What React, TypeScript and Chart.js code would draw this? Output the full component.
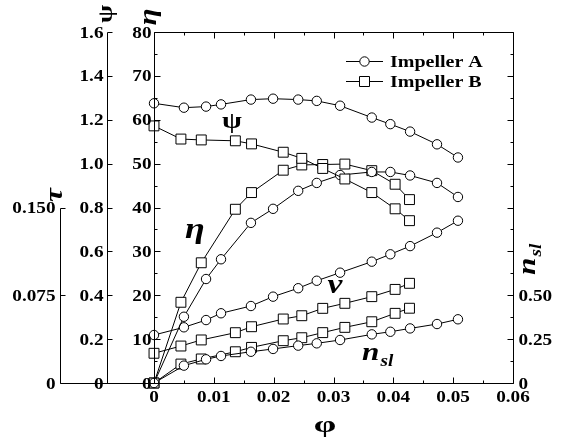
import { useEffect, useRef } from 'react';
import { Chart, registerables } from 'chart.js';

Chart.register(...registerables);

// Flow coefficient at each measured operating point
const phiA = [0, 0.005, 0.0087, 0.0112, 0.0162, 0.0199, 0.0241, 0.0272, 0.0311, 0.0364, 0.0395, 0.0428, 0.0473, 0.0508];
const phiB = [0, 0.0045, 0.0079, 0.0136, 0.0163, 0.0216, 0.0247, 0.0282, 0.0319, 0.0364, 0.0403, 0.0427];

// Head coefficient ψ
const psiA = [1.275, 1.255, 1.26, 1.27, 1.292, 1.296, 1.292, 1.286, 1.264, 1.21, 1.18, 1.146, 1.088, 1.028];
const psiB = [1.172, 1.112, 1.108, 1.104, 1.09, 1.052, 1.024, 0.978, 0.93, 0.868, 0.794, 0.74];

// Efficiency η (%)
const etaA = [0, 15.1, 23.7, 28.2, 36.5, 39.7, 43.8, 45.6, 47.4, 48.1, 48.1, 47.3, 45.6, 42.4];
const etaB = [0, 18.4, 27.4, 39.6, 43.4, 48.5, 49.7, 49.8, 49.9, 48.4, 45.3, 41.8];

// Torque coefficient τ
const tauA = [0.041, 0.0476, 0.0538, 0.0596, 0.0658, 0.0738, 0.081, 0.0874, 0.0943, 0.1037, 0.11, 0.117, 0.1285, 0.1387];
const tauB = [0.0254, 0.0316, 0.0368, 0.043, 0.0481, 0.0547, 0.0575, 0.0638, 0.0681, 0.0738, 0.08, 0.0852];

// Specific speed n_sl
const nslA = [0, 0.099, 0.135, 0.154, 0.178, 0.194, 0.213, 0.226, 0.245, 0.277, 0.292, 0.311, 0.336, 0.363];
const nslB = [0, 0.108, 0.137, 0.178, 0.203, 0.241, 0.258, 0.287, 0.317, 0.349, 0.397, 0.426];

const seriesNames = ['Impeller A', 'Impeller B'];

// Axis ticks and their labels
const xTicks = [0, 0.01, 0.02, 0.03, 0.04, 0.05, 0.06];
const xTickLabels = ['0', '0.01', '0.02', '0.03', '0.04', '0.05', '0.06'];
const etaTicks = [0, 10, 20, 30, 40, 50, 60, 70, 80];
const etaTickLabels = ['0', '10', '20', '30', '40', '50', '60', '70', '80'];
const psiTicks = [0, 0.2, 0.4, 0.6, 0.8, 1.0, 1.2, 1.4, 1.6];
const psiTickLabels = ['0', '0.2', '0.4', '0.6', '0.8', '1.0', '1.2', '1.4', '1.6'];
const tauTicks = [0, 0.075, 0.15];
const tauTickLabels = ['0', '0.075', '0.150'];
const nslTicks = [0, 0.25, 0.5];
const nslTickLabels = ['0', '0.25', '0.50'];

const SERIF = '"Liberation Serif", "Times New Roman", serif';
const SX = 1.2;
const PSI_AXIS_X = 107;
const TAU_AXIS_X = 60;

type TextOpts = {
  size: number;
  italic?: boolean;
  align?: CanvasTextAlign;
  baseline?: CanvasTextBaseline;
  sx?: number;
  rotate?: boolean;
};

function drawText(ctx: CanvasRenderingContext2D, str: string, x: number, y: number, o: TextOpts) {
  ctx.save();
  ctx.translate(x, y);
  if (o.rotate) ctx.rotate(-Math.PI / 2);
  ctx.scale(o.sx ?? SX, 1);
  ctx.font = `${o.italic ? 'italic ' : ''}bold ${o.size}px ${SERIF}`;
  ctx.textAlign = o.align ?? 'left';
  ctx.textBaseline = o.baseline ?? 'alphabetic';
  ctx.fillStyle = '#000';
  ctx.fillText(str, 0, 0);
  ctx.restore();
}

// "n" with a subscript "sl", optionally rotated to read bottom-to-top
function drawNsl(ctx: CanvasRenderingContext2D, x: number, y: number, size: number, rotate: boolean) {
  ctx.save();
  ctx.translate(x, y);
  if (rotate) ctx.rotate(-Math.PI / 2);
  ctx.scale(SX, 1);
  ctx.fillStyle = '#000';
  ctx.textBaseline = 'alphabetic';
  ctx.textAlign = 'left';
  ctx.font = `italic bold ${size}px ${SERIF}`;
  const w = ctx.measureText('n').width;
  const sub = Math.round(size * 0.62);
  ctx.font = `italic bold ${sub}px ${SERIF}`;
  const ws = ctx.measureText('sl').width;
  const start = -(w + ws) / 2;
  ctx.font = `italic bold ${size}px ${SERIF}`;
  ctx.fillText('n', start, 0);
  ctx.font = `italic bold ${sub}px ${SERIF}`;
  ctx.fillText('sl', start + w + 1, size * 0.22);
  ctx.restore();
}

function line(ctx: CanvasRenderingContext2D, x1: number, y1: number, x2: number, y2: number) {
  ctx.beginPath();
  ctx.moveTo(x1, y1);
  ctx.lineTo(x2, y2);
  ctx.stroke();
}

const axesPlugin = {
  id: 'multiAxisFrame',
  afterDraw(chart: Chart) {
    const ctx = chart.ctx;
    const { left, right, top, bottom } = chart.chartArea;
    const sx = chart.scales.x;
    const se = chart.scales.eta;
    const sp = chart.scales.psi;
    const st = chart.scales.tau;
    const sn = chart.scales.nsl;
    const L = Math.round(left) + 0.5;
    const R = Math.round(right) + 0.5;
    const T = Math.round(top) + 0.5;
    const B = Math.round(bottom) + 0.5;
    const PX = PSI_AXIS_X + 0.5;
    const TX = TAU_AXIS_X + 0.5;

    ctx.save();
    ctx.strokeStyle = '#000';
    ctx.lineWidth = 1;

    // frame, extended baseline, ψ and τ axis lines
    line(ctx, L, T, R, T);
    line(ctx, R, T, R, B);
    line(ctx, L, T, L, B);
    line(ctx, TX, B, R, B);
    line(ctx, PX, T, PX, B);
    line(ctx, TX, Math.round(st.getPixelForValue(0.15)) + 0.5, TX, B);

    // φ ticks on bottom and top edges, minor every 0.005
    for (let i = 0; i <= 12; i++) {
      const px = Math.round(sx.getPixelForValue(i * 0.005)) + 0.5;
      const len = i % 2 === 0 ? 6 : 3;
      line(ctx, px, B, px, B - len);
      line(ctx, px, T, px, T + len);
    }
    // η ticks, minor every 5
    for (let i = 0; i <= 16; i++) {
      const py = Math.round(se.getPixelForValue(i * 5)) + 0.5;
      line(ctx, L, py, L + (i % 2 === 0 ? 6 : 3), py);
    }
    // n_sl ticks on the right edge, minor every 0.125
    for (let i = 0; i <= 16; i++) {
      const py = Math.round(sn.getPixelForValue(i * 0.125)) + 0.5;
      line(ctx, R, py, R - (i % 2 === 0 ? 6 : 3), py);
    }
    psiTicks.forEach((v) => {
      const py = Math.round(sp.getPixelForValue(v)) + 0.5;
      line(ctx, PX, py, PX + 5, py);
    });
    tauTicks.forEach((v) => {
      const py = Math.round(st.getPixelForValue(v)) + 0.5;
      line(ctx, TX, py, TX + 5, py);
    });

    // tick labels
    const TS = 16;
    xTicks.forEach((v, i) => {
      drawText(ctx, xTickLabels[i], sx.getPixelForValue(v), B + 18, { size: TS, align: 'center' });
    });
    etaTicks.forEach((v, i) => {
      drawText(ctx, etaTickLabels[i], L - 3, se.getPixelForValue(v) + 5.5, { size: TS, align: 'right' });
    });
    psiTicks.forEach((v, i) => {
      drawText(ctx, psiTickLabels[i], PX - 4, sp.getPixelForValue(v) + 5.5, { size: TS, align: 'right' });
    });
    tauTicks.forEach((v, i) => {
      drawText(ctx, tauTickLabels[i], TX - 5, st.getPixelForValue(v) + 5.5, { size: TS, align: 'right' });
    });
    nslTicks.forEach((v, i) => {
      drawText(ctx, nslTickLabels[i], R + 5, sn.getPixelForValue(v) + 5.5, { size: TS, align: 'left' });
    });

    // axis titles
    drawText(ctx, 'ψ', 106, 14, { size: 22, align: 'center', baseline: 'middle', rotate: true });
    drawText(ctx, 'η', 149, 17, { size: 26, italic: true, align: 'center', baseline: 'middle', rotate: true });
    drawText(ctx, 'τ', 55, 195, { size: 26, italic: true, align: 'center', baseline: 'middle', rotate: true });
    drawNsl(ctx, 535, 260, 26, true);
    drawText(ctx, 'φ', 325, 426, { size: 24, align: 'center', baseline: 'middle', sx: 1.5 });

    // curve labels inside the plot
    drawText(ctx, 'ψ', 232, 122, { size: 24, align: 'center', baseline: 'middle' });
    drawText(ctx, 'η', 195, 230, { size: 30, italic: true, align: 'center', baseline: 'middle' });
    drawText(ctx, 'v', 335, 286, { size: 28, italic: true, align: 'center', baseline: 'middle' });
    drawNsl(ctx, 377, 360, 26, false);

    // legend
    const rows = [
      { y: 61.5, shape: 'circle' },
      { y: 81.5, shape: 'rect' },
    ];
    rows.forEach((r, i) => {
      line(ctx, 346, r.y, 383, r.y);
      ctx.fillStyle = '#fff';
      ctx.beginPath();
      if (r.shape === 'circle') ctx.arc(364.5, r.y, 4.7, 0, Math.PI * 2);
      else ctx.rect(364.5 - 5, r.y - 5, 10, 10);
      ctx.fill();
      ctx.stroke();
      drawText(ctx, seriesNames[i], 390, r.y + 5.5, { size: 16, align: 'left', sx: 1.25 });
    });

    ctx.restore();
  },
};

function series(label: string, xs: number[], ys: number[], axis: string, shape: 'circle' | 'rect') {
  return {
    label,
    data: xs.map((x, i) => ({ x, y: ys[i] })),
    yAxisID: axis,
    borderColor: '#000',
    borderWidth: 1,
    pointStyle: shape,
    pointRadius: shape === 'circle' ? 4.7 : 7,
    pointBackgroundColor: '#fff',
    pointBorderColor: '#000',
    pointBorderWidth: 1,
    tension: 0,
    fill: false,
    clip: false as const,
  };
}

export default function App() {
  const ref = useRef<HTMLCanvasElement | null>(null);

  useEffect(() => {
    if (!ref.current) return;
    const chart = new Chart(ref.current, {
      type: 'line',
      data: {
        datasets: [
          series('ψ ' + seriesNames[0], phiA, psiA, 'psi', 'circle'),
          series('ψ ' + seriesNames[1], phiB, psiB, 'psi', 'rect'),
          series('η ' + seriesNames[0], phiA, etaA, 'eta', 'circle'),
          series('η ' + seriesNames[1], phiB, etaB, 'eta', 'rect'),
          series('τ ' + seriesNames[0], phiA, tauA, 'tau', 'circle'),
          series('τ ' + seriesNames[1], phiB, tauB, 'tau', 'rect'),
          series('n_sl ' + seriesNames[0], phiA, nslA, 'nsl', 'circle'),
          series('n_sl ' + seriesNames[1], phiB, nslB, 'nsl', 'rect'),
        ] as any,
      },
      options: {
        responsive: false,
        animation: false,
        events: [],
        layout: { padding: { left: 154, right: 50, top: 32, bottom: 58 } },
        plugins: { legend: { display: false }, tooltip: { enabled: false } },
        scales: {
          x: { type: 'linear', min: 0, max: 0.06, display: false },
          eta: { type: 'linear', position: 'left', min: 0, max: 80, display: false },
          psi: { type: 'linear', position: 'left', min: 0, max: 1.6, display: false },
          tau: { type: 'linear', position: 'left', min: 0, max: 0.3, display: false },
          nsl: { type: 'linear', position: 'right', min: 0, max: 2, display: false },
        },
      },
      plugins: [axesPlugin],
    });
    return () => chart.destroy();
  }, []);

  return (
    <canvas
      ref={ref}
      width={563}
      height={441}
      style={{ position: 'absolute', left: 0, top: 0, background: '#fff' }}
    />
  );
}
